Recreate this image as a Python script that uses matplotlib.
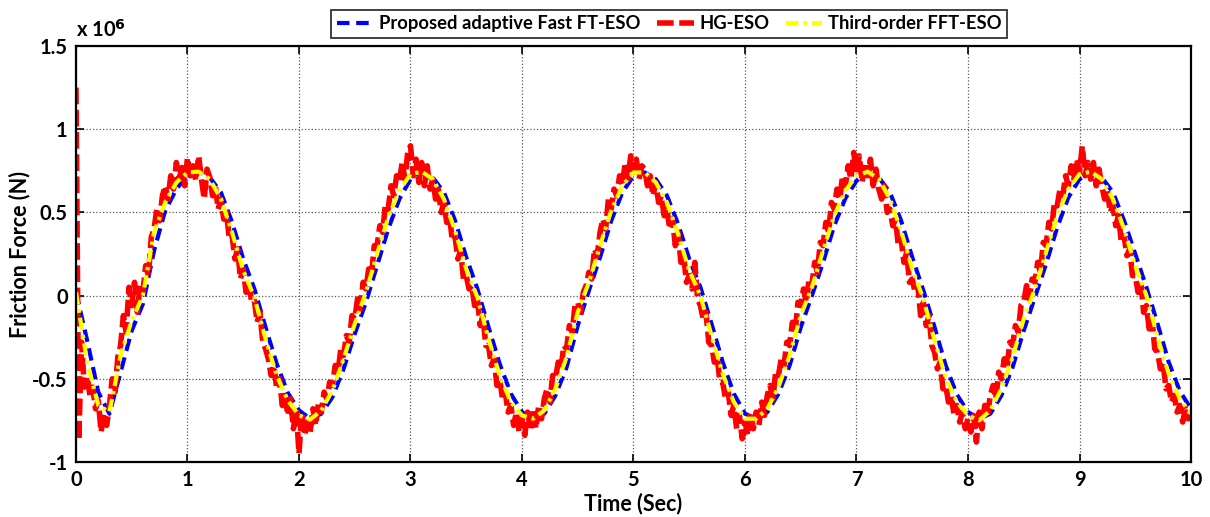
import numpy as np
import matplotlib
matplotlib.use("Agg")
import matplotlib.pyplot as plt

plt.rcParams["font.family"] = ["Lato", "DejaVu Sans"]
plt.rcParams["font.weight"] = "bold"

# values in units of 1e6 N
t_smooth = np.linspace(0, 10, 101)
t_red = np.linspace(0, 10, 401)

fft_eso = [
    0.02, -0.40, -0.66, -0.70, -0.36, -0.15, 0.00, 0.38, 0.56, 0.68,
    0.74, 0.745, 0.70, 0.58, 0.38, 0.15, -0.01, -0.26, -0.48, -0.63,
    -0.72, -0.745, -0.69, -0.57, -0.38, -0.17, 0.02, 0.25, 0.47, 0.63,
    0.73, 0.745, 0.70, 0.58, 0.39, 0.16, -0.01, -0.26, -0.48, -0.64,
    -0.72, -0.74, -0.69, -0.56, -0.37, -0.10, 0.08, 0.30, 0.51, 0.66,
    0.74, 0.74, 0.68, 0.56, 0.37, 0.15, 0.00, -0.24, -0.47, -0.64,
    -0.74, -0.74, -0.68, -0.55, -0.36, -0.12, 0.05, 0.27, 0.48, 0.63,
    0.72, 0.745, 0.70, 0.58, 0.39, 0.16, -0.02, -0.27, -0.49, -0.64,
    -0.72, -0.75, -0.69, -0.56, -0.37, -0.14, 0.04, 0.26, 0.48, 0.64,
    0.73, 0.745, 0.70, 0.58, 0.40, 0.18, 0.00, -0.25, -0.47, -0.62,
    -0.71,
]

proposed = [
    0.02, -0.27, -0.58, -0.71, -0.46, -0.21, -0.05, 0.27, 0.51, 0.64,
    0.72, 0.745, 0.71, 0.62, 0.44, 0.22, 0.04, -0.19, -0.41, -0.585,
    -0.69, -0.74, -0.71, -0.61, -0.44, -0.23, -0.04, 0.18, 0.40, 0.58,
    0.70, 0.74, 0.71, 0.62, 0.45, 0.23, 0.04, -0.19, -0.41, -0.59,
    -0.70, -0.74, -0.71, -0.60, -0.43, -0.18, 0.03, 0.23, 0.45, 0.62,
    0.72, 0.74, 0.70, 0.60, 0.43, 0.22, 0.05, -0.17, -0.40, -0.59,
    -0.71, -0.74, -0.70, -0.59, -0.42, -0.19, 0.00, 0.20, 0.42, 0.585,
    0.69, 0.74, 0.71, 0.62, 0.45, 0.23, 0.03, -0.19, -0.42, -0.595,
    -0.70, -0.74, -0.71, -0.60, -0.43, -0.21, -0.01, 0.19, 0.41, 0.59,
    0.70, 0.74, 0.71, 0.62, 0.45, 0.25, 0.05, -0.17, -0.40, -0.575,
    -0.68,
]

hg_eso = [
    1.25, -0.87, -0.28, -0.55, -0.48, -0.60, -0.55, -0.68, -0.63, -0.82,
    -0.71, -0.78, -0.66, -0.50, -0.58, -0.37, -0.30, -0.12, -0.22, 0.05,
    -0.06, 0.08, -0.10, 0.06, 0.02, 0.18, 0.12, 0.35, 0.40, 0.52,
    0.45, 0.60, 0.66, 0.58, 0.72, 0.64, 0.80, 0.70, 0.77, 0.66,
    0.83, 0.72, 0.78, 0.69, 0.84, 0.70, 0.58, 0.76, 0.71, 0.60,
    0.66, 0.52, 0.58, 0.46, 0.50, 0.34, 0.36, 0.22, 0.28, 0.10,
    0.16, 0.02, 0.08, -0.04, -0.03, -0.16, -0.10, -0.28, -0.32, -0.38,
    -0.48, -0.42, -0.56, -0.50, -0.66, -0.60, -0.72, -0.62, -0.80, -0.68,
    -0.95, -0.70, -0.84, -0.76, -0.82, -0.68, -0.78, -0.64, -0.70, -0.58,
    -0.62, -0.52, -0.54, -0.42, -0.46, -0.32, -0.36, -0.24, -0.28, -0.12,
    -0.14, -0.02, -0.08, 0.08, 0.04, 0.16, 0.12, 0.30, 0.30, 0.42,
    0.38, 0.55, 0.52, 0.66, 0.60, 0.72, 0.68, 0.80, 0.70, 0.86,
    0.90, 0.72, 0.82, 0.68, 0.80, 0.66, 0.78, 0.64, 0.70, 0.58,
    0.64, 0.50, 0.56, 0.44, 0.48, 0.33, 0.35, 0.22, 0.27, 0.10,
    0.12, 0.04, 0.06, -0.06, -0.02, -0.18, -0.12, -0.30, -0.30, -0.42,
    -0.38, -0.54, -0.50, -0.62, -0.58, -0.70, -0.66, -0.78, -0.70, -0.82,
    -0.74, -0.84, -0.70, -0.80, -0.68, -0.80, -0.66, -0.74, -0.62, -0.56,
    -0.64, -0.48, -0.50, -0.40, -0.44, -0.30, -0.32, -0.18, -0.22, -0.06,
    -0.04, -0.10, 0.02, 0.06, 0.14, 0.10, 0.28, 0.24, 0.38, 0.46,
    0.40, 0.58, 0.52, 0.64, 0.60, 0.72, 0.66, 0.80, 0.70, 0.84,
    0.74, 0.82, 0.70, 0.78, 0.76, 0.66, 0.72, 0.60, 0.68, 0.56,
    0.60, 0.48, 0.52, 0.40, 0.46, 0.30, 0.38, 0.20, 0.24, 0.08,
    0.12, 0.04, 0.20, -0.02, -0.06, -0.14, -0.10, -0.28, -0.30, -0.40,
    -0.36, -0.52, -0.52, -0.62, -0.58, -0.72, -0.66, -0.80, -0.72, -0.86,
    -0.76, -0.84, -0.70, -0.80, -0.70, -0.78, -0.64, -0.72, -0.60, -0.54,
    -0.62, -0.46, -0.48, -0.38, -0.42, -0.28, -0.30, -0.16, -0.22, -0.04,
    -0.06, 0.04, -0.04, 0.10, 0.06, 0.20, 0.14, 0.32, 0.30, 0.44,
    0.38, 0.56, 0.52, 0.64, 0.58, 0.72, 0.66, 0.78, 0.70, 0.86,
    0.74, 0.84, 0.68, 0.80, 0.72, 0.82, 0.66, 0.76, 0.64, 0.58,
    0.66, 0.50, 0.52, 0.42, 0.46, 0.30, 0.34, 0.20, 0.26, 0.08,
    0.10, 0.02, 0.06, -0.12, -0.04, -0.18, -0.12, -0.30, -0.34, -0.44,
    -0.40, -0.56, -0.54, -0.64, -0.60, -0.72, -0.66, -0.76, -0.70, -0.80,
    -0.74, -0.82, -0.72, -0.88, -0.70, -0.80, -0.66, -0.72, -0.60, -0.54,
    -0.62, -0.46, -0.50, -0.38, -0.44, -0.28, -0.30, -0.18, -0.22, -0.06,
    -0.04, 0.06, -0.02, 0.10, 0.08, 0.20, 0.14, 0.32, 0.30, 0.44,
    0.40, 0.56, 0.54, 0.64, 0.60, 0.72, 0.66, 0.78, 0.70, 0.82,
    0.74, 0.90, 0.72, 0.80, 0.70, 0.80, 0.66, 0.76, 0.66, 0.58,
    0.64, 0.50, 0.54, 0.42, 0.48, 0.32, 0.36, 0.24, 0.28, 0.12,
    0.12, 0.02, 0.08, -0.10, -0.06, -0.20, -0.14, -0.32, -0.34, -0.44,
    -0.40, -0.56, -0.54, -0.64, -0.60, -0.70, -0.66, -0.76, -0.68, -0.74,
    -0.72,
]

labels = ["Proposed adaptive Fast FT-ESO", "HG-ESO", "Third-order FFT-ESO"]

fig = plt.figure(figsize=(12.1, 5.17), dpi=100)
ax = fig.add_axes([0.0628, 0.1064, 0.9215, 0.8046])

l1, = ax.plot(t_smooth, proposed, color="blue", lw=3, linestyle=(0, (3, 1.6)))
l2, = ax.plot(t_red, hg_eso, color="red", lw=4, linestyle=(0, (3, 1.0)))
l3, = ax.plot(t_smooth, fft_eso, color="yellow", lw=3, linestyle=(0, (3, 1.2, 0.8, 1.2)))

ax.set_xlim(0, 10)
ax.set_ylim(-1, 1.5)
ax.set_xticks(range(0, 11))
ax.set_yticks([-1, -0.5, 0, 0.5, 1, 1.5])
ax.set_yticklabels(["-1", "-0.5", "0", "0.5", "1", "1.5"])
ax.grid(True, color="0.35", linestyle=":", lw=0.9)
ax.tick_params(direction="in", top=True, right=True, length=6, width=1.2,
               labelsize=14.5, pad=6)
for s in ax.spines.values():
    s.set_linewidth(1.6)

ax.set_xlabel("Time (Sec)", fontsize=15.5, fontweight="bold", labelpad=2)
ax.set_ylabel("Friction Force (N)", fontsize=15.5, fontweight="bold", labelpad=1)
ax.text(0.0, 1.012, "x 10$^{\\mathbf{6}}$", transform=ax.transAxes,
        fontsize=14.5, fontweight="bold", ha="left", va="bottom")

leg = fig.legend([l1, l2, l3], labels, loc="center", ncol=3,
                 bbox_to_anchor=(0.553, 0.954), fontsize=13.2,
                 frameon=True, fancybox=False, edgecolor="black",
                 handlelength=2.0, handletextpad=0.3, columnspacing=0.9,
                 borderpad=0.3)
leg.get_frame().set_linewidth(1.3)

fig.savefig("out.png", dpi=100)
